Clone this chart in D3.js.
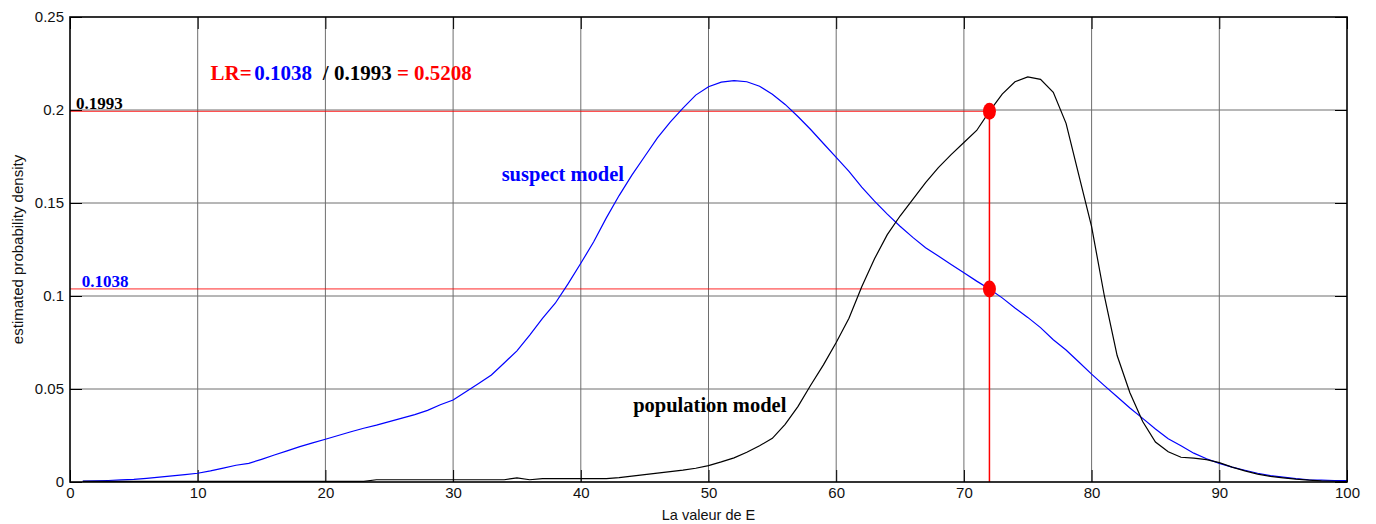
<!DOCTYPE html>
<html>
<head>
<meta charset="utf-8">
<script src="https://cdn.jsdelivr.net/npm/d3@7"></script>
<style>
  html, body { margin: 0; padding: 0; background: #fff; }
  svg { display: block; }
</style>
</head>
<body>
<svg id="chart" width="1376" height="524"></svg>
<script>
// Values of E (1..100)
const eValues = d3.range(1, 101);

// Suspect model density
const suspectDensity = [
  0.0005, 0.0006, 0.0008, 0.0011, 0.0014, 0.0020, 0.0026, 0.0033, 0.0040, 0.0047,
  0.0060, 0.0075, 0.0090, 0.0100, 0.0122, 0.0145, 0.0167, 0.0190, 0.0210, 0.0230,
  0.0250, 0.0270, 0.0289, 0.0306, 0.0325, 0.0343, 0.0362, 0.0385, 0.0415, 0.0441,
  0.0485, 0.0530, 0.0575, 0.0640, 0.0705, 0.0790, 0.0880, 0.0961, 0.1065, 0.1176,
  0.1290, 0.1420, 0.1540, 0.1650, 0.1750, 0.1850, 0.1935, 0.2010, 0.2080, 0.2125,
  0.2150, 0.2158, 0.2152, 0.2128, 0.2085, 0.2030, 0.1965, 0.1895, 0.1820, 0.1745,
  0.1670, 0.1585, 0.1510, 0.1440, 0.1375, 0.1315, 0.1260, 0.1215, 0.1170, 0.1125,
  0.1080, 0.1038, 0.0990, 0.0935, 0.0885, 0.0830, 0.0765, 0.0710, 0.0645, 0.0580,
  0.0518, 0.0458, 0.0398, 0.0342, 0.0285, 0.0232, 0.0195, 0.0155, 0.0125, 0.0100,
  0.0080, 0.0063, 0.0047, 0.0034, 0.0026, 0.0018, 0.0012, 0.0010, 0.0008, 0.0007
];

// Population model density
const populationDensity = [
  0.0003, 0.0003, 0.0003, 0.0003, 0.0003, 0.0003, 0.0003, 0.0003, 0.0003, 0.0003,
  0.0003, 0.0003, 0.0003, 0.0003, 0.0003, 0.0003, 0.0003, 0.0003, 0.0003, 0.0003,
  0.0003, 0.0003, 0.0003, 0.0012, 0.0012, 0.0012, 0.0012, 0.0012, 0.0012, 0.0012,
  0.0012, 0.0012, 0.0012, 0.0012, 0.0022, 0.0012, 0.0018, 0.0018, 0.0018, 0.0018,
  0.0018, 0.0018, 0.0024, 0.0032, 0.0040, 0.0048, 0.0056, 0.0064, 0.0074, 0.0088,
  0.0108, 0.0130, 0.0160, 0.0195, 0.0235, 0.0310, 0.0405, 0.0520, 0.0630, 0.0750,
  0.0880, 0.1050, 0.1200, 0.1330, 0.1430, 0.1520, 0.1610, 0.1690, 0.1760, 0.1825,
  0.1890, 0.1993, 0.2085, 0.2152, 0.2178, 0.2165, 0.2095, 0.1928, 0.1650, 0.1373,
  0.1000, 0.0680, 0.0480, 0.0325, 0.0215, 0.0163, 0.0133, 0.0128, 0.0120, 0.0104,
  0.0080, 0.0060, 0.0042, 0.0030, 0.0022, 0.0015, 0.0010, 0.0006, 0.0004, 0.0002
];

// Evaluation point and the two densities read there
const evalE = 72;
const suspectAtE = 0.1038;
const populationAtE = 0.1993;
const likelihoodRatio = 0.5208;

const xTicks = [0, 10, 20, 30, 40, 50, 60, 70, 80, 90, 100];
const yTicks = [0, 0.05, 0.1, 0.15, 0.2, 0.25];
const yTickLabels = ["0", "0.05", "0.1", "0.15", "0.2", "0.25"];

const xTitle = "La valeur de E";
const yTitle = "estimated probability density";

// Annotation anchors in data coordinates: [E, density]
const lrParts = [
  { text: "LR=", color: "#ff0000", at: [11.0, 0.2161] },
  { text: String(suspectAtE), color: "#0000ff", at: [14.43, 0.2161] },
  { text: "/ " + populationAtE, color: "#000000", at: [19.8, 0.2161] },
  { text: "= " + likelihoodRatio, color: "#ff0000", at: [25.6, 0.2161] }
];
const valueTags = [
  { text: String(populationAtE), color: "#000000", at: [0.47, 0.2007] },
  { text: String(suspectAtE), color: "#0000ff", at: [0.92, 0.1050] }
];
const curveNames = [
  { text: "suspect model", color: "#0000ff", at: [33.8, 0.1620] },
  { text: "population model", color: "#000000", at: [44.1, 0.0378] }
];

// ---- drawing ----
const svg = d3.select("#chart");
const margin = { left: 70, right: 29, top: 17, bottom: 42 };
const W = 1376, H = 524;
const x = d3.scaleLinear().domain([0, 100]).range([margin.left, W - margin.right]);
const y = d3.scaleLinear().domain([0, 0.25]).range([H - margin.bottom, margin.top]);

const sansFont = "Liberation Sans, Arial, sans-serif";
const serifFont = "Liberation Serif, 'Times New Roman', serif";

// grid
const grid = svg.append("g").attr("stroke", "#6e6e6e").attr("stroke-width", 1);
grid.selectAll("line.vx").data(xTicks.slice(1, -1)).join("line")
  .attr("x1", d => x(d)).attr("x2", d => x(d))
  .attr("y1", y(0)).attr("y2", y(0.25));
grid.selectAll("line.hy").data(yTicks.slice(1, -1)).join("line")
  .attr("x1", x(0)).attr("x2", x(100))
  .attr("y1", d => y(d)).attr("y2", d => y(d));

// axes with inward ticks on all four sides
const tickLen = 12;
const bottomAxis = d3.axisBottom(x).tickValues(xTicks).tickSizeInner(-tickLen).tickSizeOuter(0).tickPadding(5);
const topAxis = d3.axisTop(x).tickValues(xTicks).tickSizeInner(-tickLen).tickSizeOuter(0).tickFormat("");
const leftAxis = d3.axisLeft(y).tickValues(yTicks).tickSizeInner(-tickLen).tickSizeOuter(0).tickPadding(6)
  .tickFormat((d, i) => yTickLabels[i]);
const rightAxis = d3.axisRight(y).tickValues(yTicks).tickSizeInner(-tickLen).tickSizeOuter(0).tickFormat("");

function styleAxis(g) {
  g.select(".domain").remove();
  g.selectAll(".tick line").attr("stroke", "#000").attr("stroke-width", 1);
  g.selectAll(".tick text").attr("font-family", sansFont).attr("font-size", "15px").attr("fill", "#111");
}
svg.append("g").attr("transform", `translate(0,${y(0)})`).call(bottomAxis).call(styleAxis);
svg.append("g").attr("transform", `translate(0,${y(0.25)})`).call(topAxis).call(styleAxis);
svg.append("g").attr("transform", `translate(${x(0)},0)`).call(leftAxis).call(styleAxis);
svg.append("g").attr("transform", `translate(${x(100)},0)`).call(rightAxis).call(styleAxis);

// reference lines at the evaluation point
const ref = svg.append("g").attr("stroke", "#ff0000").attr("fill", "none");
ref.append("line")
  .attr("x1", x(0)).attr("x2", x(evalE))
  .attr("y1", y(populationAtE)).attr("y2", y(populationAtE))
  .attr("stroke-width", 1).attr("stroke-opacity", 0.85);
ref.append("line")
  .attr("x1", x(0)).attr("x2", x(evalE))
  .attr("y1", y(suspectAtE)).attr("y2", y(suspectAtE))
  .attr("stroke-width", 1).attr("stroke-opacity", 0.85);
ref.append("line")
  .attr("x1", x(evalE)).attr("x2", x(evalE))
  .attr("y1", y(populationAtE)).attr("y2", y(0))
  .attr("stroke-width", 1.5);

// density curves
const line = d3.line().x((d, i) => x(eValues[i])).y(d => y(d));
svg.append("path").datum(suspectDensity)
  .attr("d", line).attr("fill", "none").attr("stroke", "#0000ff").attr("stroke-width", 1.2);
svg.append("path").datum(populationDensity)
  .attr("d", line).attr("fill", "none").attr("stroke", "#000000").attr("stroke-width", 1.2);

// markers at the evaluation point
svg.selectAll("ellipse.pt").data([populationAtE, suspectAtE]).join("ellipse")
  .attr("cx", x(evalE)).attr("cy", d => y(d))
  .attr("rx", 6.5).attr("ry", 8.5)
  .attr("fill", "#ff0000");

// axes box
svg.append("rect")
  .attr("x", x(0)).attr("y", y(0.25))
  .attr("width", x(100) - x(0)).attr("height", y(0) - y(0.25))
  .attr("fill", "none").attr("stroke", "#000").attr("stroke-width", 1.6);

// annotations
function addLabels(list, size) {
  svg.append("g").selectAll("text").data(list).join("text")
    .attr("x", d => x(d.at[0])).attr("y", d => y(d.at[1]))
    .attr("fill", d => d.color)
    .attr("font-family", serifFont).attr("font-weight", "bold")
    .attr("font-size", size)
    .text(d => d.text);
}
addLabels(lrParts, "21px");
addLabels(valueTags, "17px");
addLabels(curveNames, "20.5px");

// axis titles
svg.append("text")
  .attr("x", (x(0) + x(100)) / 2).attr("y", 520)
  .attr("text-anchor", "middle")
  .attr("font-family", sansFont).attr("font-size", "14.5px").attr("fill", "#111")
  .text(xTitle);
svg.append("text")
  .attr("transform", `translate(23,${(y(0) + y(0.25)) / 2}) rotate(-90)`)
  .attr("text-anchor", "middle")
  .attr("font-family", sansFont).attr("font-size", "15px").attr("fill", "#111")
  .text(yTitle);
</script>
</body>
</html>
